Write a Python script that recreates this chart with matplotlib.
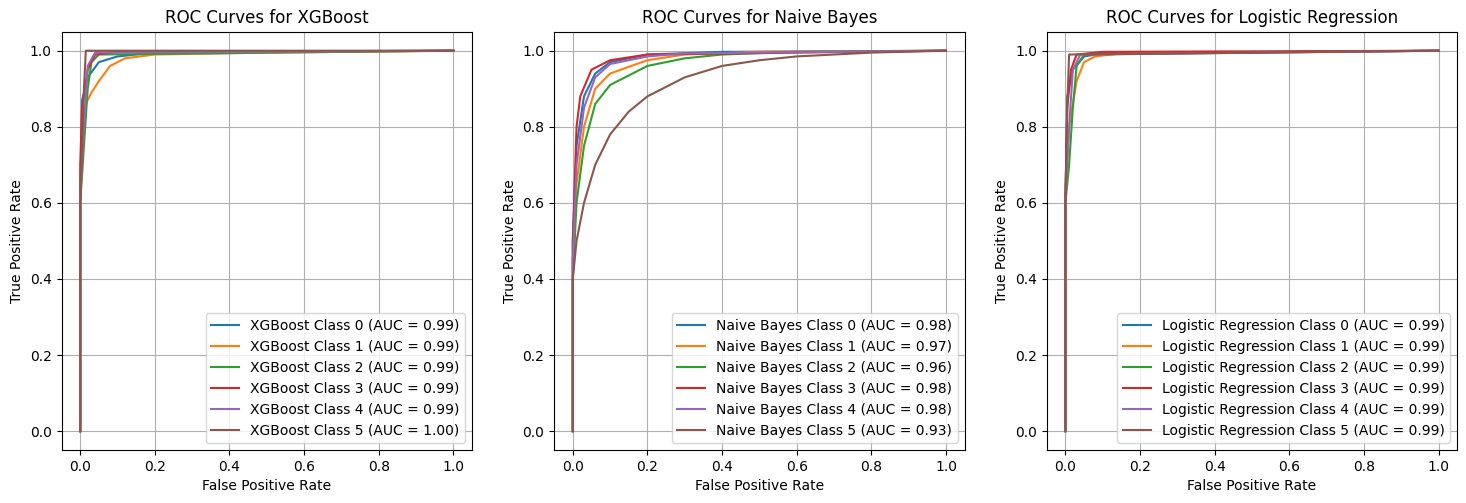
import matplotlib
matplotlib.use("Agg")
import matplotlib.pyplot as plt

models = ["XGBoost", "Naive Bayes", "Logistic Regression"]

xgb_fpr = [
    [0, 0, 0.005, 0.02, 0.05, 0.1, 0.2, 1],
    [0, 0, 0.01, 0.03, 0.05, 0.08, 0.12, 0.2, 0.5, 1],
    [0, 0, 0.01, 0.02, 0.03, 0.05, 1],
    [0, 0, 0.005, 0.02, 0.04, 0.1, 1],
    [0, 0, 0.01, 0.02, 0.04, 1],
    [0, 0, 0.01, 0.015, 1],
]
xgb_tpr = [
    [0, 0.6, 0.87, 0.93, 0.97, 0.985, 0.995, 1],
    [0, 0.6, 0.85, 0.89, 0.92, 0.96, 0.98, 0.99, 0.995, 1],
    [0, 0.6, 0.75, 0.9, 0.97, 0.99, 1],
    [0, 0.7, 0.85, 0.95, 0.99, 0.997, 1],
    [0, 0.62, 0.8, 0.96, 0.995, 1],
    [0, 0.6, 0.9, 1.0, 1],
]
xgb_auc = [0.99, 0.99, 0.99, 0.99, 0.99, 1.00]

nb_fpr = [
    [0, 0, 0.01, 0.03, 0.06, 0.1, 0.2, 0.4, 1],
    [0, 0, 0.01, 0.03, 0.06, 0.1, 0.2, 0.3, 0.5, 1],
    [0, 0, 0.01, 0.03, 0.06, 0.1, 0.2, 0.3, 0.4, 0.6, 1],
    [0, 0, 0.01, 0.02, 0.05, 0.1, 0.2, 1],
    [0, 0, 0.01, 0.03, 0.06, 0.1, 0.2, 0.3, 1],
    [0, 0, 0.01, 0.03, 0.06, 0.1, 0.15, 0.2, 0.3, 0.4, 0.5, 0.6, 0.8, 1],
]
nb_tpr = [
    [0, 0.5, 0.75, 0.88, 0.94, 0.97, 0.99, 0.997, 1],
    [0, 0.45, 0.65, 0.8, 0.9, 0.94, 0.975, 0.99, 0.997, 1],
    [0, 0.4, 0.6, 0.75, 0.86, 0.91, 0.96, 0.98, 0.99, 0.997, 1],
    [0, 0.5, 0.8, 0.88, 0.95, 0.975, 0.99, 1],
    [0, 0.45, 0.7, 0.85, 0.93, 0.965, 0.985, 0.993, 1],
    [0, 0.4, 0.5, 0.6, 0.7, 0.78, 0.84, 0.88, 0.93, 0.96, 0.975, 0.985, 0.995, 1],
]
nb_auc = [0.98, 0.97, 0.96, 0.98, 0.98, 0.93]

lr_fpr = [
    [0, 0, 0.005, 0.02, 0.05, 0.1, 1],
    [0, 0, 0.01, 0.03, 0.05, 0.08, 0.15, 1],
    [0, 0, 0.01, 0.02, 0.03, 0.05, 1],
    [0, 0, 0.005, 0.015, 0.03, 0.1, 1],
    [0, 0, 0.01, 0.02, 0.04, 1],
    [0, 0, 0.005, 0.01, 1],
]
lr_tpr = [
    [0, 0.6, 0.88, 0.95, 0.985, 0.993, 1],
    [0, 0.6, 0.8, 0.92, 0.97, 0.985, 0.993, 1],
    [0, 0.6, 0.7, 0.85, 0.96, 0.99, 1],
    [0, 0.6, 0.85, 0.95, 0.99, 0.997, 1],
    [0, 0.62, 0.8, 0.95, 0.99, 1],
    [0, 0.6, 0.85, 0.99, 1],
]
lr_auc = [0.99, 0.99, 0.99, 0.99, 0.99, 0.99]

all_fpr = [xgb_fpr, nb_fpr, lr_fpr]
all_tpr = [xgb_tpr, nb_tpr, lr_tpr]
all_auc = [xgb_auc, nb_auc, lr_auc]

fig, axes = plt.subplots(1, 3, figsize=(14.66, 5.03))
fig.subplots_adjust(left=0.042, right=0.994, bottom=0.105, top=0.937, wspace=0.2)

for ax, name, fprs, tprs, aucs in zip(axes, models, all_fpr, all_tpr, all_auc):
    for i in range(6):
        ax.plot(fprs[i], tprs[i], label=f"{name} Class {i} (AUC = {aucs[i]:.2f})")
    ax.set_title(f"ROC Curves for {name}")
    ax.set_xlabel("False Positive Rate")
    ax.set_ylabel("True Positive Rate")
    ax.legend(loc="lower right")
    ax.grid(True)

plt.savefig("out.png", dpi=100)
